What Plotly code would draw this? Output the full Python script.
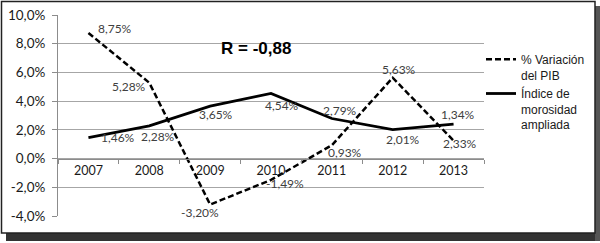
import plotly.graph_objects as go

years = ["2007", "2008", "2009", "2010", "2011", "2012", "2013"]
pib = [8.75, 5.28, -3.20, -1.49, 0.93, 5.63, 1.25]
morosidad = [1.46, 2.28, 3.65, 4.54, 2.79, 2.01, 2.40]
pib_labels = ["8,75%", "5,28%", "-3,20%", "-1,49%", "0,93%", "5,63%", "2,33%"]
mor_labels = ["1,46%", "2,28%", "3,65%", "4,54%", "2,79%", "2,01%", "1,34%"]
y_ticks = [-4, -2, 0, 2, 4, 6, 8, 10]
y_tick_text = ["-4,0%", "-2,0%", "0,0%", "2,0%", "4,0%", "6,0%", "8,0%", "10,0%"]

# label offsets in pixels (style)
pib_off = [(27, -4), (-20, 4), (-10, 8), (14, 4), (13, 7), (6, -8), (6, 3)]
mor_off = [(30, 0), (9, 11), (6, 8), (11, 12), (8, -8), (10, 10), (4, -10)]

W, H = 600, 243
L, R, T, B = 58, 116, 15, 27
pw, ph = W - L - R, H - T - B

def px(x):
    return (x - L) / pw

def py(y):
    return (H - B - y) / ph

fig = go.Figure()
fig.add_trace(go.Scatter(
    x=years, y=pib, mode="lines", name="% Variación<br>del PIB",
    line=dict(color="black", width=2.5, dash="6px,3px"), hoverinfo="skip"))
fig.add_trace(go.Scatter(
    x=years, y=morosidad, mode="lines", name="Índice de<br>morosidad<br>ampliada",
    line=dict(color="black", width=2.8), hoverinfo="skip"))

ann = []
lab_font = dict(family="Lato", size=12, color="#404040")
for i, (v, t, (dx, dy)) in enumerate(zip(pib, pib_labels, pib_off)):
    ann.append(dict(x=i, y=v, xref="x", yref="y", text=t, showarrow=False,
                    xshift=dx, yshift=-dy, font=lab_font))
for i, (v, t, (dx, dy)) in enumerate(zip(morosidad, mor_labels, mor_off)):
    ann.append(dict(x=i, y=v, xref="x", yref="y", text=t, showarrow=False,
                    xshift=dx, yshift=-dy, font=lab_font))
ann.append(dict(x=px(256), y=py(37), xref="paper", yref="paper", text="<b>R = -0,88</b>",
                showarrow=False, font=dict(family="Liberation Sans", size=17, color="black")))

shapes = [
    # drop shadow
    dict(type="rect", xref="paper", yref="paper", x0=px(6), x1=px(600), y0=py(241), y1=py(233),
         fillcolor="#333333", line=dict(width=0), layer="below"),
    dict(type="rect", xref="paper", yref="paper", x0=px(595), x1=px(600), y0=py(241), y1=py(6),
         fillcolor="#555555", line=dict(width=0), layer="below"),
    # frame
    dict(type="rect", xref="paper", yref="paper", x0=px(1.5), x1=px(595), y0=py(233), y1=py(1.5),
         line=dict(color="#222222", width=1.5), layer="above"),
]

fig.update_layout(
    width=W, height=H,
    margin=dict(l=L, r=R, t=T, b=B, autoexpand=False),
    paper_bgcolor="white", plot_bgcolor="white",
    showlegend=True,
    legend=dict(x=px(481), y=py(45), xanchor="left", yanchor="top",
                font=dict(family="Liberation Sans", size=12, color="#1a1a1a"),
                valign="top", bgcolor="rgba(0,0,0,0)",
                tracegroupgap=0),
    annotations=ann,
    shapes=shapes,
    xaxis=dict(
        type="category", range=[-0.5, 6.5], anchor="free", position=4 / 14,
        showgrid=False, showline=True, linecolor="#8c8c8c", linewidth=1,
        ticks="outside", tickson="boundaries", ticklen=4, tickcolor="#8c8c8c",
        tickfont=dict(family="Lato", size=12.5, color="#1a1a1a"),
        zeroline=False, fixedrange=True, automargin=False,
    ),
    yaxis=dict(
        range=[-4, 10], tickvals=y_ticks, ticktext=y_tick_text,
        showgrid=True, gridcolor="#a6a6a6", gridwidth=1,
        showline=True, linecolor="#8c8c8c", linewidth=1,
        ticks="outside", ticklen=5, tickcolor="#8c8c8c",
        tickfont=dict(family="Lato", size=13.5, color="#1a1a1a"),
        ticklabelstandoff=4,
        zeroline=False, fixedrange=True, automargin=False,
    ),
)

fig.write_html("out.html", config={"displayModeBar": False},
               post_script="document.body.style.margin='0';document.body.style.overflow='hidden';")
